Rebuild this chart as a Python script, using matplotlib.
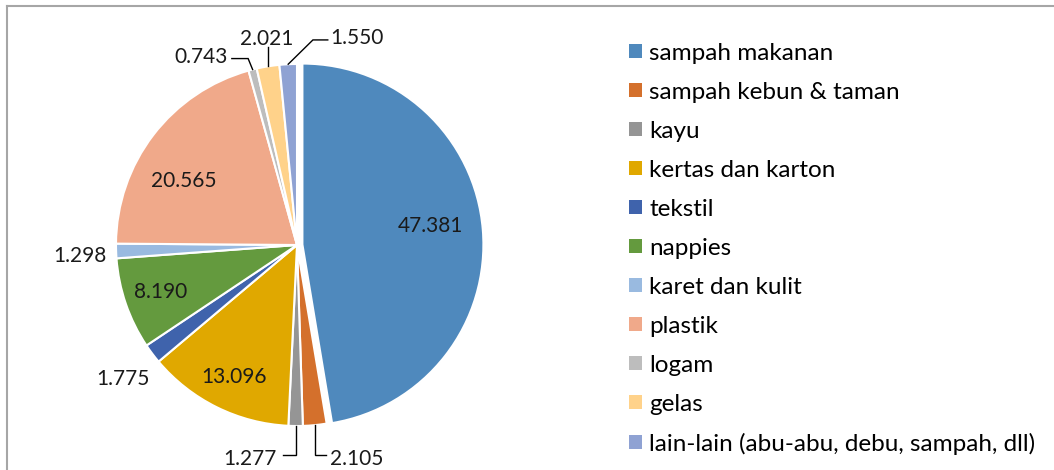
import numpy as np
import matplotlib.pyplot as plt
from matplotlib.lines import Line2D

plt.rcParams['font.family'] = ['Lato', 'DejaVu Sans']

categories = ["sampah makanan", "sampah kebun & taman", "kayu", "kertas dan karton",
              "tekstil", "nappies", "karet dan kulit", "plastik", "logam", "gelas",
              "lain-lain (abu-abu, debu, sampah, dll)"]
values = [47.381, 2.105, 1.277, 13.096, 1.775, 8.190, 1.298, 20.565, 0.743, 2.021, 1.550]
value_labels = ["47.381", "2.105", "1.277", "13.096", "1.775", "8.190", "1.298",
                "20.565", "0.743", "2.021", "1.550"]
colors = ["#4F89BD", "#D4702C", "#959595", "#E0A800", "#3F63AC", "#649A3E",
          "#99BAE0", "#F0A98A", "#BDBDBD", "#FFD28A", "#8FA2D3"]

W, H = 1054, 470
fig = plt.figure(figsize=(W / 100, H / 100), dpi=100)

# pie centre and radius in pixels
cx, cy, R = 297, 245, 181
half = 240
ax = fig.add_axes([(cx - half) / W, (H - cy - half) / H, 2 * half / W, 2 * half / H])

explode = [0.03] + [0] * (len(values) - 1)
wedges, _ = ax.pie(values, colors=colors, startangle=90, counterclock=False,
                   explode=explode, radius=1.0,
                   wedgeprops=dict(edgecolor='white', linewidth=1.5))
for w in wedges:
    w.set_clip_on(False)
ax.set_xlim(-half / R, half / R)
ax.set_ylim(-half / R, half / R)
ax.axis('off')

fs = 15
dy = -0.02  # visual centring of digits
# inside labels: (radius, angle shift in degrees)
inside = {0: (0.72, 5.3), 3: (0.79, 0), 5: (0.79, -1.5), 7: (0.73, 6.5)}
outside_plain = {4, 6}
# leader labels: text pos, ha, corner point, end point (radius units)
leaders = {
    1: dict(t=(0.18, -1.16), ha='left', corner='below', end=(0.16, -1.16)),
    2: dict(t=(-0.11, -1.16), ha='right', corner='below', end=(-0.075, -1.16)),
    8: dict(t=(-0.385, 1.06), ha='right', corner=(-0.27, 1.03), end=(-0.36, 1.03)),
    9: dict(t=(-0.17, 1.16), ha='center', corner=None, end=(None, 1.095)),
    10: dict(t=(0.185, 1.163), ha='left', corner=(0.088, 1.133), end=(0.17, 1.133)),
}

for i, w in enumerate(wedges):
    mid = (w.theta1 + w.theta2) / 2
    ox, oy = w.center
    if i in inside:
        r, shift = inside[i]
        a = np.deg2rad(mid + shift)
        ax.text(ox + r * np.cos(a), oy + r * np.sin(a) + dy, value_labels[i],
                ha='center', va='center', fontsize=fs, color='#1a1a1a')
        continue
    a = np.deg2rad(mid)
    ca, sa = np.cos(a), np.sin(a)
    if i in outside_plain:
        ax.text(1.2 * ca, 1.2 * sa + dy, value_labels[i], ha='center', va='center',
                fontsize=fs, color='#1a1a1a')
    else:
        L = leaders[i]
        sx, sy = ox + ca, oy + sa
        ax.text(L['t'][0], L['t'][1] + dy, value_labels[i], ha=L['ha'], va='center',
                fontsize=fs, color='#1a1a1a')
        ex, ey = L['end']
        if L['corner'] == 'below':
            xs, ys = [sx, sx, ex], [sy, ey, ey]
        elif L['corner'] is None:
            xs, ys = [sx, sx], [sy, ey]
        else:
            xs, ys = [sx, L['corner'][0], ex], [sy, L['corner'][1], ey]
        ax.plot(xs, ys, color='black', lw=1.0, clip_on=False, solid_joinstyle='miter')

# legend
handles = [plt.Rectangle((0, 0), 1, 1, facecolor=c, edgecolor='none') for c in colors]
fig.legend(handles, categories, loc='upper left', bbox_to_anchor=(619 / W, 1 - 33 / H),
           frameon=False, fontsize=17.5, handlelength=0.55, handleheight=0.55,
           handletextpad=0.3, labelspacing=0.74, borderaxespad=0)

# chart border (top and left visible)
fig.add_artist(Line2D([7 / W, 1], [1 - 6 / H, 1 - 6 / H], transform=fig.transFigure,
                      color='#a6a6a6', lw=1.5))
fig.add_artist(Line2D([7 / W, 7 / W], [0, 1 - 6 / H], transform=fig.transFigure,
                      color='#a6a6a6', lw=1.5))

fig.savefig('out.png', dpi=100)
